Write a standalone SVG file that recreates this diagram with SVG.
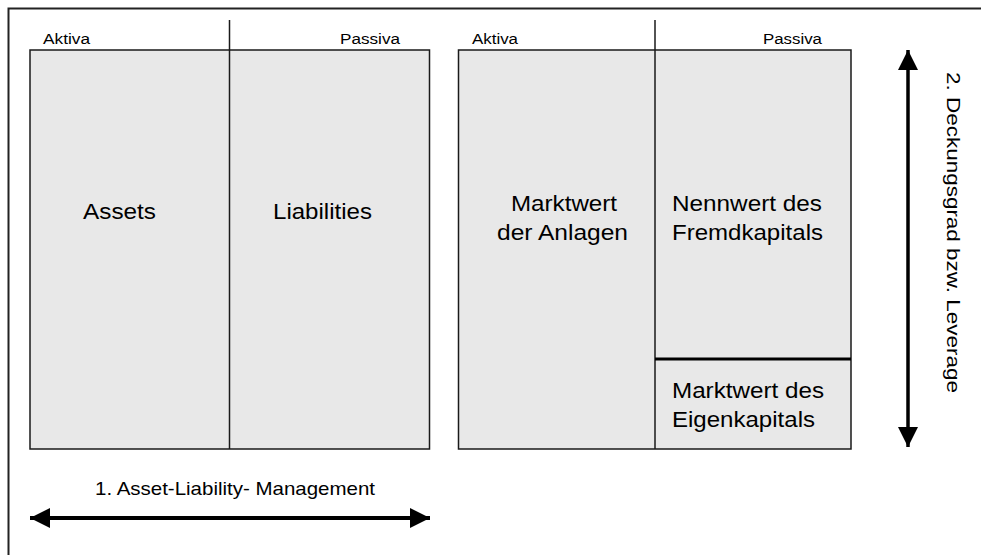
<svg xmlns="http://www.w3.org/2000/svg" width="981" height="555" viewBox="0 0 981 555">
<defs>
<style>
.box{fill:#e8e8e8;stroke:#1a1a1a;stroke-width:1.5}
.div{stroke:#1a1a1a;stroke-width:1.5;fill:none}
.sm{font-family:"Liberation Sans",Arial,sans-serif;font-size:15.5px;fill:#000}
.lg{font-family:"Liberation Sans",Arial,sans-serif;font-size:22px;fill:#000}
.md{font-family:"Liberation Sans",Arial,sans-serif;font-size:19px;fill:#000}
.arr{stroke:#000;fill:none}
</style>
<marker id="ah" markerUnits="userSpaceOnUse" viewBox="0 0 20 20" refX="20" refY="10" markerWidth="20" markerHeight="20" orient="auto-start-reverse">
<path d="M0,0 L20,10 L0,20 Z" fill="#000"/>
</marker>
</defs>
<rect x="0" y="0" width="981" height="555" fill="#fff"/>
<rect x="8.5" y="8.5" width="1100" height="700" fill="none" stroke="#222" stroke-width="2"/>

<g id="bilanz1">
<rect class="box" x="30" y="50" width="399.5" height="399"/>
<line class="div" x1="229.5" y1="20" x2="229.5" y2="449"/>
<text class="sm" x="43" y="44" textLength="47" lengthAdjust="spacingAndGlyphs">Aktiva</text>
<text class="sm" x="340" y="44" textLength="60" lengthAdjust="spacingAndGlyphs">Passiva</text>
</g>
<g id="assets"><text class="lg" x="83" y="219" textLength="73" lengthAdjust="spacingAndGlyphs">Assets</text></g>
<g id="liabilities"><text class="lg" x="273" y="219" textLength="99" lengthAdjust="spacingAndGlyphs">Liabilities</text></g>

<g id="bilanz2">
<rect class="box" x="458.5" y="50" width="392.5" height="399"/>
<line class="div" x1="655" y1="20" x2="655" y2="449"/>
<line x1="655" y1="359" x2="851" y2="359" stroke="#000" stroke-width="3"/>
<text class="sm" x="472" y="44" textLength="46" lengthAdjust="spacingAndGlyphs">Aktiva</text>
<text class="sm" x="763" y="44" textLength="59" lengthAdjust="spacingAndGlyphs">Passiva</text>
</g>
<g id="marktwert-anlagen">
<text class="lg" x="511" y="211" textLength="106" lengthAdjust="spacingAndGlyphs">Marktwert</text>
<text class="lg" x="497" y="240" textLength="131" lengthAdjust="spacingAndGlyphs">der Anlagen</text>
</g>
<g id="nennwert-fremdkapital">
<text class="lg" x="672" y="211" textLength="150" lengthAdjust="spacingAndGlyphs">Nennwert des</text>
<text class="lg" x="672" y="240" textLength="151" lengthAdjust="spacingAndGlyphs">Fremdkapitals</text>
</g>
<g id="marktwert-eigenkapital">
<text class="lg" x="672" y="398" textLength="152" lengthAdjust="spacingAndGlyphs">Marktwert des</text>
<text class="lg" x="672" y="427" textLength="143" lengthAdjust="spacingAndGlyphs">Eigenkapitals</text>
</g>

<g id="connectors">
<line class="arr" x1="30" y1="518" x2="430" y2="518" stroke-width="4" marker-start="url(#ah)" marker-end="url(#ah)"/>
<line class="arr" x1="908" y1="50" x2="908" y2="447" stroke-width="3.5" marker-start="url(#ah)" marker-end="url(#ah)"/>
</g>
<g id="labels">
<text class="md" x="95" y="495" textLength="280" lengthAdjust="spacingAndGlyphs">1. Asset-Liability- Management</text>
<text class="md" transform="translate(947,72) rotate(90)" x="0" y="0" textLength="321" lengthAdjust="spacingAndGlyphs">2. Deckungsgrad bzw. Leverage</text>
</g>
</svg>
